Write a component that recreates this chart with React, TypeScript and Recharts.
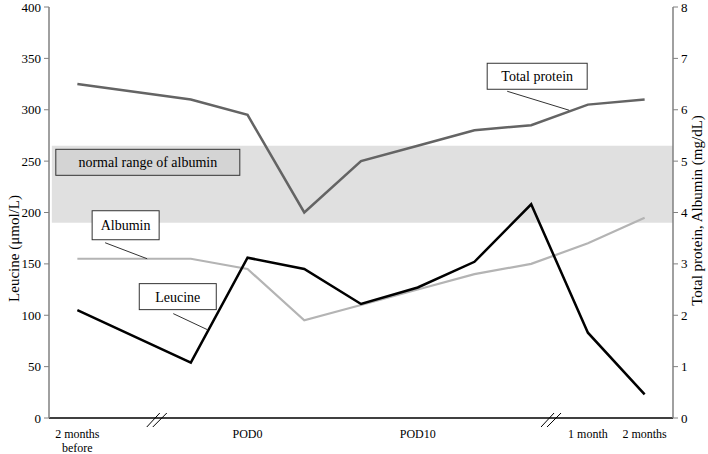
import React from 'react';
import { LineChart, Line, XAxis, YAxis, ReferenceArea, ReferenceDot, Label } from 'recharts';

const xIndex = [0, 2, 3, 4, 5, 6, 7, 8, 9, 10];
const leucine = [105, 54, 156, 145, 111, 127, 152, 208, 83, 23];
const totalProtein = [6.5, 6.2, 5.9, 4.0, 5.0, 5.3, 5.6, 5.7, 6.1, 6.2];
const albumin = [3.1, 3.1, 2.9, 1.9, 2.2, 2.5, 2.8, 3.0, 3.4, 3.9];

const xTickValues = [0, 3, 6, 9, 10];
const xTickLabels = ['2 months|before', 'POD0', 'POD10', '1 month', '2 months'];
const leftTicks = [0, 50, 100, 150, 200, 250, 300, 350, 400];
const rightTicks = [0, 1, 2, 3, 4, 5, 6, 7, 8];
const albuminRange = [3.8, 5.3];
const breakPositions = [1.4, 8.35];

const data = xIndex.map((x, i) => ({
  x,
  leucine: leucine[i],
  tp: totalProtein[i],
  alb: albumin[i],
}));

const FONT = '"Liberation Serif", "Times New Roman", serif';

const XTick = (props: any) => {
  const { x, y, payload } = props;
  const idx = xTickValues.indexOf(payload.value);
  const label = idx >= 0 ? xTickLabels[idx] : '';
  const lines = label.split('|');
  return (
    <g>
      {lines.map((ln, i) => (
        <text key={i} x={x} y={y + 12 + i * 14} textAnchor="middle" fontSize={12} fontFamily={FONT} fill="#000">
          {ln}
        </text>
      ))}
    </g>
  );
};

const BreakMark = (props: any) => {
  const { cx, cy } = props;
  return (
    <g>
      <line x1={cx - 10} y1={cy + 9} x2={cx + 3} y2={cy - 5} stroke="#000" strokeWidth={1} />
      <line x1={cx - 4} y1={cy + 9} x2={cx + 10} y2={cy - 5} stroke="#000" strokeWidth={1} />
    </g>
  );
};

const makeCallout = (text: string, rx: number, ry: number, rw: number, rh: number, lx: number, ly: number) =>
  (props: any) => {
    const { cx, cy } = props;
    return (
      <g>
        <line x1={cx + lx} y1={cy + ly} x2={cx} y2={cy} stroke="#333" strokeWidth={1} />
        <rect x={cx + rx} y={cy + ry} width={rw} height={rh} fill="#fff" stroke="#333" strokeWidth={1} />
        <text x={cx + rx + rw / 2} y={cy + ry + rh / 2 + 5} textAnchor="middle" fontSize={14} fontFamily={FONT} fill="#000">
          {text}
        </text>
      </g>
    );
  };

const RangeBox = (props: any) => {
  const { cx, cy } = props;
  return (
    <g>
      <rect x={cx} y={cy} width={184} height={26} fill="#d4d4d4" stroke="#333" strokeWidth={1} />
      <text x={cx + 92} y={cy + 18} textAnchor="middle" fontSize={14} fontFamily={FONT} fill="#000">
        normal range of albumin
      </text>
    </g>
  );
};

const LeftLabel = (props: any) => {
  const vb = props.viewBox || {};
  const cx = 14;
  const cy = (vb.y || 7) + (vb.height || 411) / 2 + 36;
  return (
    <text x={cx} y={cy} transform={`rotate(-90 ${cx} ${cy})`} textAnchor="middle" dominantBaseline="central" fontSize={15} fontFamily={FONT} fill="#000">
      Leucine (μmol/L)
    </text>
  );
};

const RightLabel = (props: any) => {
  const vb = props.viewBox || {};
  const cx = 697;
  const cy = (vb.y || 7) + (vb.height || 411) / 2 - 2;
  return (
    <text x={cx} y={cy} transform={`rotate(-90 ${cx} ${cy})`} textAnchor="middle" dominantBaseline="central" fontSize={15} fontFamily={FONT} fill="#000">
      Total protein, Albumin (mg/dL)
    </text>
  );
};

export default function App() {
  return (
    <div style={{ position: 'absolute', left: 0, top: 0, width: 708, height: 454, background: '#fff' }}>
      <LineChart width={708} height={454} data={data} margin={{ top: 7, right: 0, bottom: 0, left: 0 }} style={{ fontFamily: FONT }}>
        <XAxis
          dataKey="x"
          type="number"
          domain={[-0.5, 10.5]}
          ticks={xTickValues}
          interval={0}
          tickLine={false}
          axisLine={{ stroke: '#000', strokeWidth: 1.5 }}
          tick={<XTick />}
          height={36}
        />
        <YAxis
          yAxisId="l"
          domain={[0, 400]}
          ticks={leftTicks}
          interval={0}
          width={49}
          tickSize={5}
          tickMargin={3}
          axisLine={{ stroke: '#808080', strokeWidth: 1.5 }}
          tickLine={{ stroke: '#808080' }}
          tick={{ fill: '#000', fontSize: 13, fontFamily: FONT }}
        >
          <Label content={<LeftLabel />} />
        </YAxis>
        <YAxis
          yAxisId="r"
          orientation="right"
          domain={[0, 8]}
          ticks={rightTicks}
          interval={0}
          width={35}
          tickSize={5}
          tickMargin={3}
          axisLine={{ stroke: '#808080', strokeWidth: 1.5 }}
          tickLine={{ stroke: '#808080' }}
          tick={{ fill: '#000', fontSize: 13, fontFamily: FONT }}
        >
          <Label content={<RightLabel />} />
        </YAxis>
        <ReferenceArea yAxisId="r" y1={albuminRange[0]} y2={albuminRange[1]} x1={-0.45} x2={10.5} fill="#e0e0e0" fillOpacity={1} stroke="none" />
        <Line yAxisId="r" dataKey="alb" type="linear" stroke="#b4b4b4" strokeWidth={2.2} dot={false} isAnimationActive={false} />
        <Line yAxisId="r" dataKey="tp" type="linear" stroke="#646464" strokeWidth={2.5} dot={false} isAnimationActive={false} />
        <Line yAxisId="l" dataKey="leucine" type="linear" stroke="#000" strokeWidth={2.5} dot={false} isAnimationActive={false} />
        {breakPositions.map((b, i) => (
          <ReferenceDot key={i} yAxisId="l" x={b} y={0} ifOverflow="visible" shape={<BreakMark />} />
        ))}
        <ReferenceDot yAxisId="r" x={-0.38} y={5.23} ifOverflow="visible" shape={<RangeBox />} />
        <ReferenceDot yAxisId="r" x={1.23} y={3.1} ifOverflow="visible" shape={makeCallout('Albumin', -55, -48, 67, 29, -42, -16)} />
        <ReferenceDot yAxisId="l" x={2.29} y={86} ifOverflow="visible" shape={makeCallout('Leucine', -68, -46, 77, 26, -34, -16)} />
        <ReferenceDot yAxisId="r" x={8.67} y={5.99} ifOverflow="visible" shape={makeCallout('Total protein', -82, -47, 100, 26, -62, -19)} />
      </LineChart>
    </div>
  );
}
